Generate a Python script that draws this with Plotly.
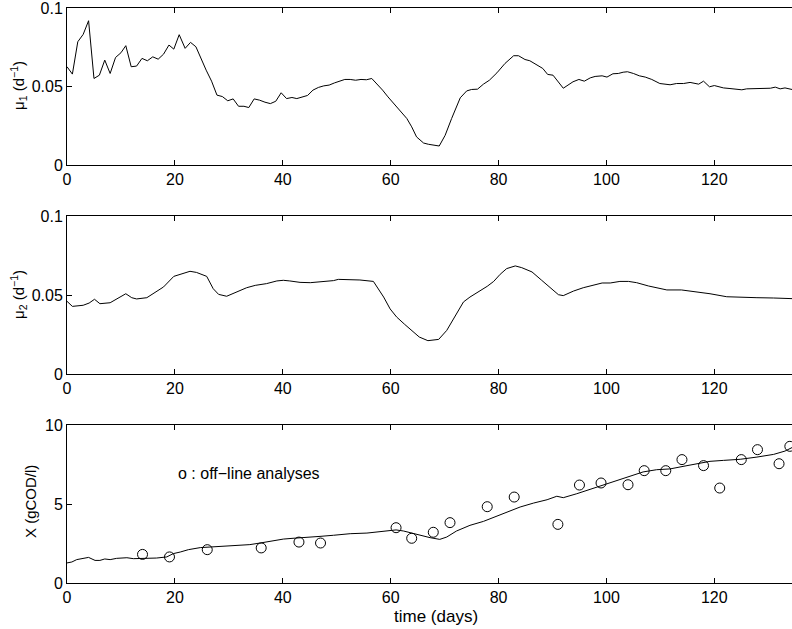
import plotly.graph_objects as go
from plotly.subplots import make_subplots

# ---- mu1 (top panel) ----
mu1_t = [0, 1.0, 2.0, 3.0, 4.0, 5.0, 6.0, 7.0, 8.0, 9.0, 10.0, 10.9, 11.9, 12.9, 13.9, 14.9,
         15.9, 16.9, 17.9, 18.9, 19.8, 20.8, 21.9, 22.9, 23.9, 24.8, 25.8, 26.8, 27.8, 28.8,
         29.8, 30.8, 31.8, 32.8, 33.7, 34.7, 35.7, 36.7, 37.7, 38.7, 39.7, 40.7, 41.7, 42.6,
         43.6, 44.6, 45.6, 46.6, 47.6, 48.6, 49.6, 50.6, 51.5, 52.5, 53.5, 54.5, 55.5, 56.5,
         57.5, 58.5, 59.5, 61.1, 63.0, 63.9, 64.8, 66.1, 67.0, 69.0, 70.1, 71.3, 72.9, 74.1,
         75.0, 76.1, 77.2, 78.3, 79.7, 81.2, 82.8, 83.7, 84.9, 85.8, 87.1, 88.2, 89.1, 90.1,
         92.0, 93.8, 94.9, 95.9, 97.0, 97.9, 99.2, 100.1, 101.2, 102.2, 103.1, 103.9, 105.0,
         106.1, 107.2, 108.4, 109.9, 111.8, 113.0, 114.3, 115.5, 117.1, 118.0, 119.1, 120.0,
         121.7, 122.9, 125.1, 126.0, 127.9, 130.4, 131.3, 132.2, 133.1, 134.4]
mu1_v = [0.0626, 0.0579, 0.0785, 0.0832, 0.0919, 0.0551, 0.0572, 0.0668, 0.0583, 0.0685,
         0.0715, 0.0760, 0.0626, 0.0630, 0.0679, 0.0664, 0.0689, 0.0674, 0.0706, 0.0764,
         0.0738, 0.0830, 0.0743, 0.0781, 0.0753, 0.0679, 0.0604, 0.0534, 0.0445, 0.0436,
         0.0409, 0.0421, 0.0374, 0.0374, 0.0366, 0.0421, 0.0413, 0.0400, 0.0391, 0.0406,
         0.0460, 0.0423, 0.0430, 0.0423, 0.0434, 0.0443, 0.0477, 0.0494, 0.0504, 0.0509,
         0.0523, 0.0536, 0.0545, 0.0545, 0.0540, 0.0545, 0.0543, 0.0551, 0.0515, 0.0477,
         0.0434, 0.0374, 0.0296, 0.0243, 0.0179, 0.0140, 0.0132, 0.0121, 0.0189, 0.0296,
         0.0428, 0.0472, 0.0481, 0.0483, 0.0515, 0.0540, 0.0587, 0.0647, 0.0696, 0.0696,
         0.0672, 0.0664, 0.0636, 0.0615, 0.0577, 0.0572, 0.0489, 0.0530, 0.0545, 0.0534,
         0.0555, 0.0564, 0.0568, 0.0560, 0.0581, 0.0583, 0.0591, 0.0594, 0.0583, 0.0568,
         0.0560, 0.0545, 0.0519, 0.0511, 0.0519, 0.0519, 0.0526, 0.0515, 0.0534, 0.0498,
         0.0506, 0.0491, 0.0487, 0.0479, 0.0485, 0.0485, 0.0489, 0.0496, 0.0485, 0.0491,
         0.0481]

# ---- mu2 (middle panel) ----
mu2_t = [0, 1.0, 3.0, 4.1, 5.1, 6.1, 8.0, 9.5, 10.9, 12.0, 12.9, 14.8, 15.9, 16.9, 17.9,
         19.8, 21.3, 22.8, 24.0, 25.9, 27.1, 28.1, 29.6, 30.8, 32.1, 33.3, 34.9, 37.0, 38.9,
         40.1, 41.3, 43.2, 45.1, 47.5, 49.4, 50.3, 52.5, 54.3, 56.8, 57.7, 58.7, 59.9, 61.1,
         62.6, 64.1, 65.3, 66.9, 68.9, 70.4, 71.9, 73.5, 74.7, 76.3, 77.9, 79.1, 80.3, 81.5,
         83.1, 84.3, 86.2, 88.0, 89.9, 91.1, 92.0, 93.9, 95.7, 97.6, 99.2, 100.7, 102.5,
         104.1, 105.6, 107.8, 109.3, 111.2, 113.9, 116.7, 119.2, 122.3, 124.8, 127.9, 131.0,
         134.4]
mu2_v = [0.0460, 0.0428, 0.0435, 0.0449, 0.0473, 0.0445, 0.0451, 0.0481, 0.0508, 0.0483,
         0.0475, 0.0483, 0.0508, 0.0525, 0.0551, 0.0618, 0.0635, 0.0650, 0.0643, 0.0618,
         0.0540, 0.0504, 0.0492, 0.0508, 0.0530, 0.0546, 0.0561, 0.0572, 0.0589, 0.0593,
         0.0589, 0.0580, 0.0578, 0.0586, 0.0591, 0.0599, 0.0599, 0.0595, 0.0586, 0.0540,
         0.0487, 0.0412, 0.0361, 0.0314, 0.0266, 0.0234, 0.0211, 0.0219, 0.0276, 0.0361,
         0.0456, 0.0487, 0.0519, 0.0555, 0.0586, 0.0631, 0.0667, 0.0684, 0.0673, 0.0646,
         0.0593, 0.0534, 0.0502, 0.0496, 0.0525, 0.0546, 0.0563, 0.0576, 0.0576, 0.0586,
         0.0586, 0.0578, 0.0557, 0.0546, 0.0532, 0.0532, 0.0521, 0.0508, 0.0489, 0.0485,
         0.0483, 0.0481, 0.0477]

# ---- X biomass estimate (bottom panel) ----
x_t = [0, 0.9, 1.8, 3.0, 4.0, 5.2, 6.1, 7.0, 8.0, 9.2, 11.1, 12.3, 14.2, 16.6, 18.5, 19.7,
       21.0, 22.5, 24.7, 27.1, 29.6, 32.1, 33.9, 35.8, 38.3, 40.1, 41.9, 44.4, 46.9, 49.4,
       52.5, 55.6, 58.7, 61.0, 62.4, 64.8, 67.3, 69.1, 70.4, 72.2, 74.7, 77.2, 79.7, 81.5,
       84.0, 86.5, 89.0, 90.8, 92.0, 94.5, 97.0, 99.4, 101.9, 104.4, 106.8, 109.3, 111.8,
       114.2, 116.7, 119.2, 121.7, 124.8, 127.9, 131.0, 133.1, 134.4]
x_v = [1.27, 1.33, 1.48, 1.54, 1.62, 1.43, 1.43, 1.52, 1.48, 1.56, 1.60, 1.54, 1.56, 1.58,
       1.65, 1.86, 1.96, 2.11, 2.24, 2.28, 2.34, 2.38, 2.43, 2.53, 2.70, 2.78, 2.83, 2.91,
       2.95, 3.02, 3.12, 3.16, 3.29, 3.36, 3.29, 3.08, 2.87, 2.76, 2.91, 3.29, 3.65, 3.90,
       4.22, 4.49, 4.81, 5.06, 5.27, 5.49, 5.40, 5.65, 5.93, 6.24, 6.50, 6.79, 7.03, 7.17,
       7.22, 7.38, 7.55, 7.70, 7.76, 7.83, 7.97, 8.14, 8.35, 8.57]

# ---- off-line analyses ----
off_t = [14, 19, 26, 36, 43, 47, 61, 63.9, 67.9, 71, 77.9, 82.9, 91, 95, 99, 104, 107, 111,
         114, 118, 121, 125, 128, 132, 134]
off_v = [1.81, 1.65, 2.11, 2.22, 2.59, 2.53, 3.50, 2.83, 3.21, 3.82, 4.83, 5.44, 3.71, 6.20,
         6.33, 6.22, 7.11, 7.11, 7.81, 7.43, 6.01, 7.81, 8.44, 7.55, 8.65]

x_ticks = [0, 20, 40, 60, 80, 100, 120]
mu_ticks = [0, 0.05, 0.1]
mu_ticktext = ["0", "0.05", "0.1"]
X_ticks = [0, 5, 10]

W, H = 792, 629
L = 67
PW = W - L
FONT = "Liberation Sans, Arial, Helvetica, sans-serif"
TF = 16

fig = make_subplots(rows=3, cols=1)
line = dict(color="black", width=1)
fig.add_trace(go.Scatter(x=mu1_t, y=mu1_v, mode="lines", line=line), row=1, col=1)
fig.add_trace(go.Scatter(x=mu2_t, y=mu2_v, mode="lines", line=line), row=2, col=1)
fig.add_trace(go.Scatter(x=x_t, y=x_v, mode="lines", line=line), row=3, col=1)
fig.add_trace(go.Scatter(x=off_t, y=off_v, mode="markers",
                         marker=dict(symbol="circle-open", size=10, color="black",
                                     line=dict(width=1, color="black"))), row=3, col=1)

def px2dom(top, bottom):
    return [1 - bottom / H, 1 - top / H]

domains = [px2dom(8, 165), px2dom(216, 374), px2dom(425, 583)]
for i in range(3):
    xa = "xaxis" if i == 0 else f"xaxis{i+1}"
    ya = "yaxis" if i == 0 else f"yaxis{i+1}"
    fig.layout[xa].update(range=[0, 134.4], tickvals=x_ticks, ticks="inside", ticklen=5,
                          showline=True, linecolor="black", linewidth=1, mirror="ticks",
                          showgrid=False, zeroline=False, tickcolor="black", automargin=False,
                          ticklabeloverflow="allow",
                          tickfont=dict(size=TF, color="black"), domain=[0, 1])
    fig.layout[ya].update(domain=domains[i], ticks="inside", ticklen=5, showline=True,
                          linecolor="black", linewidth=1, mirror=False, showgrid=False,
                          zeroline=False, tickcolor="black", automargin=False,
                          ticklabeloverflow="allow",
                          tickfont=dict(size=TF, color="black"))
fig.layout.yaxis.update(range=[0, 0.1], tickvals=mu_ticks, ticktext=mu_ticktext)
fig.layout.yaxis2.update(range=[0, 0.1], tickvals=mu_ticks, ticktext=mu_ticktext)
fig.layout.yaxis3.update(range=[0, 10], tickvals=X_ticks)

lab = dict(xref="paper", yref="paper", showarrow=False, xanchor="center", yanchor="middle")
fig.add_annotation(text="μ<sub>1</sub> (d<sup>−1</sup>)", x=(18 - L) / PW, y=1 - 86 / H,
                   textangle=-90, font=dict(size=15, color="black"), **lab)
fig.add_annotation(text="μ<sub>2</sub> (d<sup>−1</sup>)", x=(18 - L) / PW, y=1 - 295 / H,
                   textangle=-90, font=dict(size=15, color="black"), **lab)
fig.add_annotation(text="X (gCOD/l)", x=(30 - L) / PW, y=1 - 502 / H, textangle=-90,
                   font=dict(size=15, color="black"), **lab)
fig.add_annotation(text="time (days)", x=(436 - L) / PW, y=1 - 616 / H,
                   font=dict(size=17, color="black"), **lab)
fig.add_annotation(text="o : off−line analyses", xref="x3", yref="y3", x=20.2, y=6.9,
                   xanchor="left", yanchor="middle", showarrow=False,
                   font=dict(size=TF, color="black"))

fig.update_layout(width=W, height=H, margin=dict(l=L, r=0, t=0, b=0, autoexpand=False),
                  paper_bgcolor="white", plot_bgcolor="white", showlegend=False,
                  font=dict(family=FONT, size=TF, color="black"))
fig.write_html("out.html", config={"displayModeBar": False},
               post_script="document.body.style.margin='0';document.body.style.overflow='hidden';")
